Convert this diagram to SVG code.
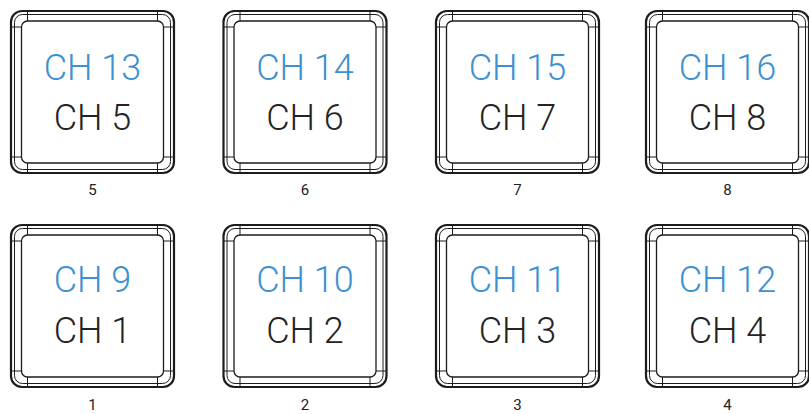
<svg xmlns="http://www.w3.org/2000/svg" xmlns:xlink="http://www.w3.org/1999/xlink" width="809" height="414" viewBox="0 0 809 414">
  <style>
    .edge { fill: none; stroke: #1c1c1c; }
    .outer { stroke-width: 2.2; }
    .band { stroke-width: 1; }
    .face { fill: #fff; stroke-width: 1.3; }
    .div { stroke-width: 1; }
    .hi { font-family: Roboto, "Liberation Sans", sans-serif; font-weight: 300; font-size: 36px; fill: #3d91d1; text-anchor: middle; }
    .lo { font-family: Roboto, "Liberation Sans", sans-serif; font-weight: 300; font-size: 36px; fill: #242424; text-anchor: middle; }
    .num { font-family: Roboto, "Liberation Sans", sans-serif; font-weight: 400; font-size: 15px; fill: #222; text-anchor: middle; }
  </style>
  <defs>
    <!-- keycap outline, 164 x 164, origin at top-left -->
    <g id="cap">
      <rect class="edge outer" x="1" y="1" width="163" height="162" rx="11" ry="11"/>
      <rect class="edge band" x="4.5" y="4.5" width="156" height="155" rx="8" ry="8"/>
      <rect class="edge face" x="11.5" y="11" width="142" height="142" rx="6" ry="6"/>
      <path class="edge div" d="M17.5 1.5 V11 M147.5 1.5 V11 M17.5 153 V162.5 M147.5 153 V162.5 M1.5 17 H11.5 M1.5 147 H11.5 M153.5 17 H163.5 M153.5 147 H163.5"/>
    </g>
  </defs>

  <rect width="809" height="414" fill="#fff"/>

  <g id="key-5" transform="translate(10 10)">
    <use xlink:href="#cap" href="#cap"/>
    <text class="hi" x="82.5" y="70">CH 13</text>
    <text class="lo" x="82.5" y="120">CH 5</text>
    <text class="num" x="82.5" y="185">5</text>
  </g>
  <g id="key-6" transform="translate(222.5 10)">
    <use xlink:href="#cap" href="#cap"/>
    <text class="hi" x="82.5" y="70">CH 14</text>
    <text class="lo" x="82.5" y="120">CH 6</text>
    <text class="num" x="82.5" y="185">6</text>
  </g>
  <g id="key-7" transform="translate(435 10)">
    <use xlink:href="#cap" href="#cap"/>
    <text class="hi" x="82.5" y="70">CH 15</text>
    <text class="lo" x="82.5" y="120">CH 7</text>
    <text class="num" x="82.5" y="185">7</text>
  </g>
  <g id="key-8" transform="translate(645 10)">
    <use xlink:href="#cap" href="#cap"/>
    <text class="hi" x="82.5" y="70">CH 16</text>
    <text class="lo" x="82.5" y="120">CH 8</text>
    <text class="num" x="82.5" y="185">8</text>
  </g>

  <g id="key-1" transform="translate(10 224)">
    <use xlink:href="#cap" href="#cap"/>
    <text class="hi" x="82.5" y="68">CH 9</text>
    <text class="lo" x="82.5" y="119">CH 1</text>
    <text class="num" x="82.5" y="186">1</text>
  </g>
  <g id="key-2" transform="translate(222.5 224)">
    <use xlink:href="#cap" href="#cap"/>
    <text class="hi" x="82.5" y="68">CH 10</text>
    <text class="lo" x="82.5" y="119">CH 2</text>
    <text class="num" x="82.5" y="186">2</text>
  </g>
  <g id="key-3" transform="translate(435 224)">
    <use xlink:href="#cap" href="#cap"/>
    <text class="hi" x="82.5" y="68">CH 11</text>
    <text class="lo" x="82.5" y="119">CH 3</text>
    <text class="num" x="82.5" y="186">3</text>
  </g>
  <g id="key-4" transform="translate(645 224)">
    <use xlink:href="#cap" href="#cap"/>
    <text class="hi" x="82.5" y="68">CH 12</text>
    <text class="lo" x="82.5" y="119">CH 4</text>
    <text class="num" x="82.5" y="186">4</text>
  </g>

  <g id="connectors"/>
</svg>
